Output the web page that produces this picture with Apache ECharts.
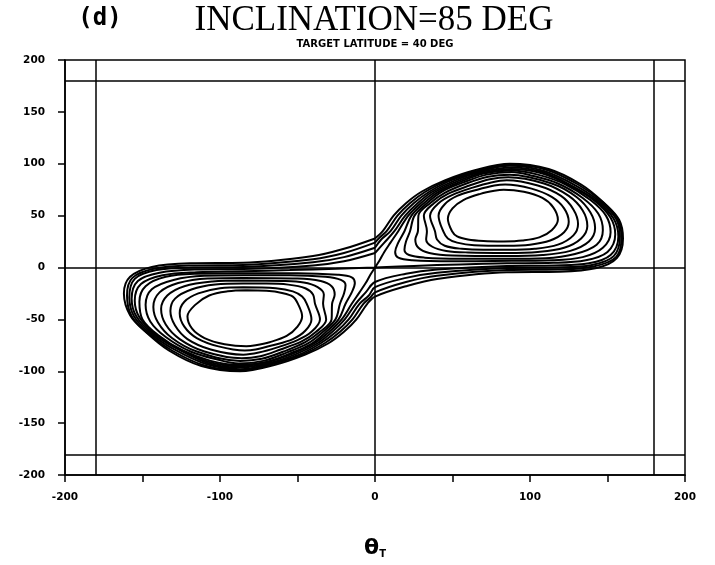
<!DOCTYPE html>
<html>
<head>
<meta charset="utf-8">
<script src="https://cdn.jsdelivr.net/npm/echarts@6/dist/echarts.min.js"></script>
<style>html,body{margin:0;padding:0;background:#fff;}#c{width:715px;height:565px;}</style>
</head>
<body>
<div id="c"></div>
<script>
// ---- axis / reference data ----
var xLabelValues = [-200, -100, 0, 100, 200];
var refLinesX = [-180, 0, 180];
var refLinesY = [-180, 0, 180];

// ---- contours around the upper-right centre ----
var upperRing1 = [[83,25],[95,26],[106,29],[114,36],[118,46],[115,58],[108,67],[96,73],[83,75],[77,74],[68,71],[57,65],[50,57],[47,47],[49.7,35],[53,30],[60,27],[70,25.5],[83,25]];
var upperRing2 = [[85,21],[100,22],[113,26],[122,34],[125,44],[122,57],[114,68],[101,76],[84,80],[77,79],[66,75],[53,69],[45,61],[41,50],[44,35],[47,28],[53,24],[64,21.5],[85,21]];
var upperRing3 = [[85,17],[103,18],[118,22],[128,31],[131,42],[128,56],[120,69],[105,79],[85,84],[75,82],[63,77],[50,70],[41,62],[35.5,50],[38.7,35],[40,27],[45,21],[56,18],[70,17],[85,17]];
var upperRing4 = [[85,14],[105,15],[122,19],[133,28],[137,40],[134,55],[125,69],[109,81],[86,87],[74,85],[61,79],[47,71],[38,62],[31.5,50],[33.5,35],[33,27],[37,20],[46,16],[60,14.5],[85,14]];
var upperRing5 = [[85,11],[108,12],[126,16],[138,25],[142,38],[139,53],[130,68],[114,81],[87,89.5],[73,87.5],[59,81],[45,72],[35.5,62],[28,50],[27.7,35],[26,27],[28,19],[35,14],[50,11.5],[85,11]];
var upperRing6 = [[85,8.5],[110,9],[129,13],[143,22],[147,36],[144,52],[134,67],[118,81],[100,89],[88,92],[72,89.5],[57,82],[43,73],[33.5,62],[25.5,50],[22.6,35],[20,25],[19,17],[22,12],[32,9.5],[55,8.5],[85,8.5]];
var upperRing7 = [[88,6.5],[115,7],[134,10],[147,19],[152,34],[149,50],[139,65],[123,80],[105,89.5],[88,93.5],[70,90.5],[55,82.5],[41,73],[31.5,62],[23.5,50],[19,35],[15,24],[13,15],[15,9.5],[24,7],[50,6],[88,6.5]];

// ---- contours around the lower-left centre ----
var lowerRing1 = [[-83,-22],[-95,-23],[-107,-27],[-116,-36],[-121,-47],[-118,-59],[-110,-68],[-97,-74],[-83,-76],[-77,-75],[-68,-72],[-57,-66],[-50,-57],[-47,-47],[-49.7,-35],[-53,-28],[-60,-24.5],[-70,-22.5],[-83,-22]];
var lowerRing2 = [[-85,-19],[-100,-20],[-114,-25],[-123,-33],[-126,-44],[-123,-57],[-115,-68],[-101,-76],[-84,-80],[-77,-79],[-66,-75],[-53,-69],[-45,-61],[-41,-50],[-44,-35],[-47,-28],[-53,-23],[-64,-20],[-85,-19]];
var lowerRing3 = [[-85,-15.5],[-103,-16.5],[-118,-21],[-129,-30],[-132,-42],[-129,-56],[-121,-69],[-106,-79],[-85,-84],[-75,-82],[-63,-77],[-50,-70],[-41,-62],[-35.5,-50],[-38.7,-35],[-40,-26],[-45,-20],[-56,-16.5],[-70,-15.5],[-85,-15.5]];
var lowerRing4 = [[-85,-12.5],[-105,-13.5],[-123,-18],[-134,-27],[-138,-40],[-135,-55],[-126,-69],[-110,-81],[-86,-87.5],[-74,-85.5],[-61,-79],[-47,-71],[-38,-62],[-31.5,-50],[-33.5,-35],[-33,-26],[-37,-19],[-46,-14.5],[-60,-13],[-85,-12.5]];
var lowerRing5 = [[-85,-10],[-108,-10.5],[-127,-15],[-139,-24],[-143,-38],[-140,-53],[-131,-68],[-115,-81],[-87,-90],[-73,-88],[-59,-81],[-45,-72],[-35.5,-62],[-28,-50],[-27.7,-35],[-26,-26],[-28,-18],[-35,-13],[-50,-10.5],[-85,-10]];
var lowerRing6 = [[-85,-7.5],[-110,-8],[-130,-12],[-144,-21],[-148,-36],[-145,-52],[-135,-67],[-119,-81],[-101,-89],[-88,-92.5],[-72,-90],[-57,-82],[-43,-73],[-33.5,-62],[-25.5,-50],[-22.6,-35],[-20,-25],[-19,-17],[-22,-12],[-32,-9],[-55,-7.5],[-85,-7.5]];
var lowerRing7 = [[-88,-5.5],[-115,-6],[-135,-9],[-148,-18],[-152,-33],[-150,-50],[-140,-65],[-124,-80],[-106,-90],[-88,-94],[-70,-91],[-55,-83],[-41,-73.5],[-31.5,-62],[-23.5,-50],[-19,-35],[-15,-24],[-13,-15],[-15,-9.5],[-24,-7],[-50,-5.5],[-88,-5.5]];

// ---- figure-eight through the saddle ----
var separatrix = [[0,0],[25,1.5],[55,3],[85,4],[115,4.5],[136,7],[150,15],[155,32],[152,48],[142,64],[126,79],[107,91],[88,95],[69,91],[53,83],[39,73],[29.5,62],[21.5,50],[15,35],[10,24],[6,15],[3,7],[0,0],
  [-3,-7],[-6,-15],[-10,-24],[-15,-35],[-21.5,-50],[-29.5,-62],[-39,-73],[-53,-83],[-69,-91],[-88,-95],[-107,-91],[-126,-79],[-142,-64],[-152,-48],[-155,-32],[-151,-16],[-137,-7.5],[-115,-4.5],[-85,-3.5],[-55,-2.5],[-25,-1.2],[0,0]];

// ---- outer contours enclosing both centres ----
var outer1 = [[0,14],[6,24],[12.5,35],[19.5,50],[27.5,62],[37,73],[51,83.5],[68,92],[88,96.5],[108,92],[128,78],[144,63],[154,47],[157,30],[152,12],[138,4],[116,2],[85,1.5],[40,-2],[20,-6],[0,-14],[-6,-24],[-12.5,-35],[-19.5,-50],[-27.5,-62],[-37,-73],[-51,-83.5],[-68,-92],[-88,-96.5],[-108,-92],[-128,-78],[-144,-63],[-154,-47],[-157,-30],[-153,-13],[-139,-5],[-116,-2],[-85,-1.5],[-40,2],[-20,6],[0,14]];
var outer2 = [[0,19],[4,27],[10,35],[17,50],[25,62],[35,73],[49,84],[67,92.5],[87,98],[109,93],[129.5,79],[145.5,63],[155.5,47],[158,30],[154,11],[140,2.5],[117,0],[85,-0.5],[40,-5],[20,-10],[0,-19],[-4,-27],[-10,-35],[-17,-50],[-25,-62],[-35,-73],[-49,-84],[-67,-92.5],[-87,-98],[-109,-93],[-129.5,-79],[-145.5,-63],[-155.5,-47],[-158.5,-29],[-155,-11],[-141,-2.5],[-117,0],[-85,0.5],[-40,5],[-20,10],[0,19]];
var outer3 = [[0,24],[3,29],[7.5,35],[14.5,50],[22.5,62],[32.5,73],[47,84],[66,93],[87,99],[110,94.5],[131,80],[147,63],[156.5,47],[159,29],[155.5,10],[141,1],[118,-2],[85,-2.5],[40,-8],[20,-14],[0,-24],[-3,-29],[-7.5,-35],[-14.5,-50],[-22.5,-62],[-32.5,-73],[-47,-84],[-66,-93],[-87,-99],[-110,-94.5],[-131,-80],[-147,-63],[-157,-47],[-160,-27],[-156.5,-10],[-142,-1],[-118,2],[-85,2.5],[-40,8],[-20,14],[0,24]];
var outer4 = [[0,28],[5,35],[12,50],[20,62],[30,73],[45,84],[65,94],[87,100],[112,95],[133,80],[148,62],[157.5,46],[160,28],[156,9],[143,-0.5],[119,-4],[85,-4.5],[40,-11],[20,-18],[0,-28],[-5,-35],[-12,-50],[-20,-62],[-30,-73],[-45,-84],[-65,-94],[-87,-100],[-112,-95],[-133,-80],[-148,-62],[-158,-46],[-162,-25],[-158,-9],[-144,0.5],[-119,4],[-85,4.5],[-40,11],[-20,18],[0,28]];

var curves = [upperRing1, upperRing2, upperRing3, upperRing4, upperRing5, upperRing6, upperRing7,
              lowerRing1, lowerRing2, lowerRing3, lowerRing4, lowerRing5, lowerRing6, lowerRing7,
              separatrix, outer1, outer2, outer3, outer4];

var chart = echarts.init(document.getElementById('c'), null, {renderer: 'canvas'});

var series = curves.map(function (d) {
  return {
    type: 'line', data: d, smooth: 0.35, showSymbol: false, symbol: 'none',
    lineStyle: {color: '#000', width: 2}, silent: true, animation: false, z: 3
  };
});

var refData = refLinesX.map(function (v) { return {xAxis: v}; })
  .concat(refLinesY.map(function (v) { return {yAxis: v}; }));
series.push({
  type: 'line', data: [], showSymbol: false, silent: true, animation: false,
  markLine: {
    silent: true, symbol: 'none', animation: false, label: {show: false},
    lineStyle: {color: '#000', width: 1.5, type: 'solid'},
    data: refData
  }
});

var labelFont = {fontFamily: 'DejaVu Sans', fontWeight: 'bold', fontSize: 10.5, color: '#000'};

chart.setOption({
  animation: false,
  backgroundColor: '#fff',
  grid: {left: 65, top: 60, right: 30, bottom: 90, show: true, borderColor: '#000', borderWidth: 1.5, backgroundColor: 'transparent'},
  xAxis: {
    type: 'value', min: -200, max: 200, interval: 50,
    splitLine: {show: false},
    axisLine: {show: true, onZero: false, lineStyle: {color: '#000', width: 1.5}},
    axisTick: {show: true, inside: false, length: 7, lineStyle: {color: '#000', width: 1.5}},
    axisLabel: Object.assign({margin: 17, formatter: function (v) { return xLabelValues.indexOf(v) >= 0 ? String(v) : ''; }}, labelFont),
    name: '{a|θ}{b|T}', nameLocation: 'middle', nameGap: 62,
    nameTextStyle: {rich: {
      a: {fontFamily: 'DejaVu Sans', fontWeight: 'bold', fontSize: 22, color: '#000'},
      b: {fontFamily: 'DejaVu Sans', fontWeight: 'bold', fontSize: 10, color: '#000', padding: [12, 0, 0, 0]}
    }}
  },
  yAxis: {
    type: 'value', min: -200, max: 200, interval: 50,
    splitLine: {show: false},
    axisLine: {show: true, onZero: false, lineStyle: {color: '#000', width: 1.5}},
    axisTick: {show: true, inside: false, length: 7, lineStyle: {color: '#000', width: 1.5}},
    axisLabel: Object.assign({margin: 20}, labelFont)
  },
  graphic: [
    {type: 'text', x: 100, y: 19, style: {text: '(d)', font: 'bold 24px "DejaVu Sans Mono"', fill: '#000', align: 'center', verticalAlign: 'middle', textAlign: 'center', textVerticalAlign: 'middle'}},
    {type: 'text', x: 374, y: 21, style: {text: 'INCLINATION=85 DEG', font: '35px "Liberation Serif"', fill: '#000', align: 'center', verticalAlign: 'middle', textAlign: 'center', textVerticalAlign: 'middle'}},
    {type: 'text', x: 375, y: 44, style: {text: 'TARGET LATITUDE = 40 DEG', font: 'bold 10px "DejaVu Sans"', fill: '#000', align: 'center', verticalAlign: 'middle', textAlign: 'center', textVerticalAlign: 'middle'}}
  ],
  series: series
});
</script>
</body>
</html>
